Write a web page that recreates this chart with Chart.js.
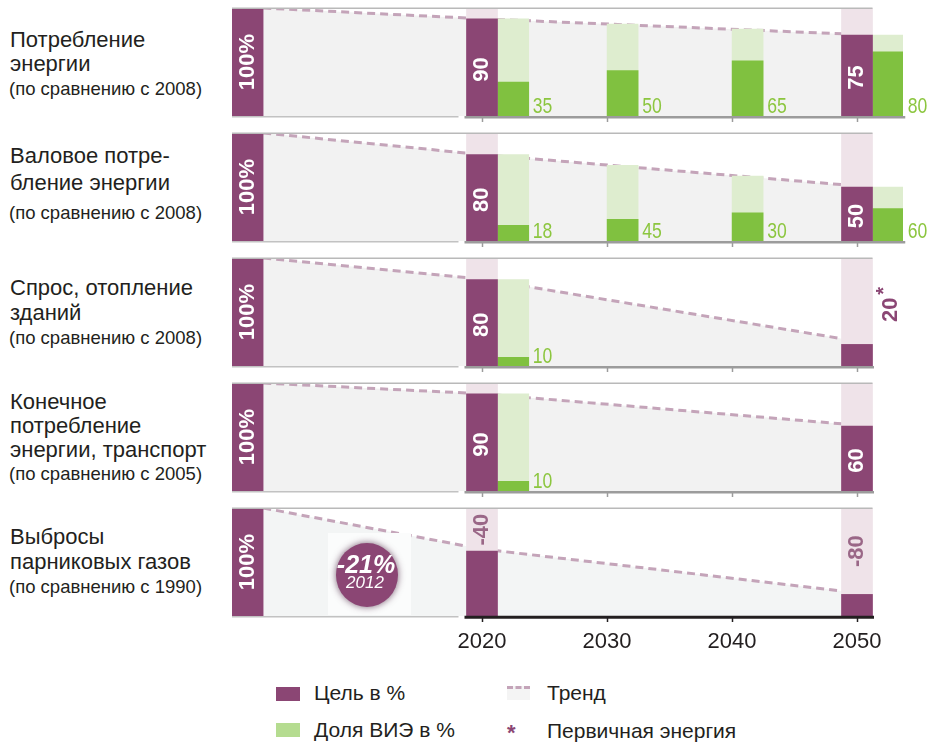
<!DOCTYPE html>
<html><head><meta charset="utf-8">
<script src="https://cdn.jsdelivr.net/npm/chart.js@4.4.1/dist/chart.umd.min.js"></script>
<style>
body{margin:0;background:#fff;width:942px;height:745px;overflow:hidden;position:relative;font-family:'Liberation Sans',Arial,sans-serif;color:#231f20}
canvas{position:absolute;left:0}
.ttl{position:absolute;left:10px;white-space:nowrap;font-size:22px;line-height:24px}
.sub{position:absolute;left:9px;white-space:nowrap;font-size:18.5px;line-height:24px}
.sw{position:absolute}
.legt{position:absolute;white-space:nowrap;font-size:21px;line-height:24px}
</style></head><body>
<script>
// ---------------- DATA ----------------
const years = [2020, 2030, 2040, 2050];
const columnYears = [2020, 2050];
const titles = [
  ['Потребление', 'энергии'],
  ['Валовое потре-', 'бление энергии'],
  ['Спрос, отопление', 'зданий'],
  ['Конечное', 'потребление', 'энергии, транспорт'],
  ['Выбросы', 'парниковых газов']
];
const subtitles = ['(по сравнению с 2008)', '(по сравнению с 2008)', '(по сравнению с 2008)', '(по сравнению с 2005)', '(по сравнению с 1990)'];
const baseValue = [100, 100, 100, 100, 100];
const baseLabel = ['100%', '100%', '100%', '100%', '100%'];
const target2020 = [90, 80, 80, 90, 60];
const target2050 = [75, 50, 20, 60, 20];
const targetLabel2020 = ['90', '80', '80', '90', '-40'];
const targetLabel2050 = ['75', '50', '20', '60', '-80'];
const trend2020 = [90, 80, 80.5, 90, 62];
const trend2050 = [75.5, 51, 23, 61, 21.5];
// renewable share bars per year (2020, 2030, 2040, 2050): total (light) and share part (dark)
const resTotal = [[90, 85, 80.5, 75], [80, 70, 60, 50], [80, null, null, null], [90, null, null, null], [null, null, null, null]];
const resPart  = [[31.5, 42, 51, 59.5], [14.5, 20, 26, 30], [8, null, null, null], [9, null, null, null], [null, null, null, null]];
const resLabels = [['35', '50', '65', '80'], ['18', '45', '30', '60'], ['10', '', '', ''], ['10', '', '', ''], ['', '', '', '']];
const badgeText = ['-21%', '2012'];
const legendItems = ['Цель в %', 'Доля ВИЭ в %', 'Тренд', 'Первичная энергия'];

// ---------------- LAYOUT / STYLE ----------------
const L = { xMin: 2000, xMax: 2053.68, baseX: 2001.25, barYears: 2.5, barPx: 31,
  panelTop: [8, 133, 258, 383, 508], panelH: 108,
  titleCenters: [[40, 64, 89], [156, 183, 213], [288, 313, 338], [402, 426, 450, 474], [537, 562, 587]],
  badgeX: 2010.8, badgeY: 38 };
const C = { purple: '#8b4674', pink: '#efe3e9', lightGreen: '#deedcf', darkGreen: '#80c140',
  fill: ['#f2f2f2', '#f2f2f2', '#f2f2f2', '#f2f2f2', '#f3f5f5'], trend: '#c4a4b9', resText: '#8cc63f',
  rule: '#b9b9b9', axis: '#9c9c9c', axisLast: '#231f20', mauveText: '#9a6787' };
const labelMode = [['in', 'in'], ['in', 'in'], ['in', 'side'], ['in', 'in'], ['above', 'above']];
Chart.defaults.font.family = "'Liberation Sans', Arial, sans-serif";

// ---------------- TITLES & LEGEND (HTML text) ----------------
titles.forEach((lines, i) => {
  const cs = L.titleCenters[i];
  lines.forEach((t, k) => {
    const d = document.createElement('div'); d.className = 'ttl'; d.textContent = t;
    d.style.top = (cs[k] - 12) + 'px'; document.body.appendChild(d);
  });
  const s = document.createElement('div'); s.className = 'sub'; s.textContent = subtitles[i];
  s.style.top = (cs[lines.length] - 12) + 'px'; document.body.appendChild(s);
});
function addDiv(cls, css, text) {
  const d = document.createElement('div'); d.className = cls; Object.assign(d.style, css);
  if (text) d.textContent = text; document.body.appendChild(d); return d;
}
addDiv('sw', {left: '276px', top: '687px', width: '24px', height: '14px', background: C.purple});
addDiv('sw', {left: '276px', top: '723px', width: '24px', height: '14px', background: '#b5dc90'});
addDiv('sw', {left: '507px', top: '686px', width: '23px', height: '11px', background: '#f4f4f4', borderTop: '3px dashed ' + C.trend});
addDiv('sw', {left: '507px', top: '722px', fontSize: '22px', fontWeight: 'bold', color: C.purple, lineHeight: '22px'}, '*');
addDiv('legt', {left: '314px', top: '681px'}, legendItems[0]);
addDiv('legt', {left: '314px', top: '718px'}, legendItems[1]);
addDiv('legt', {left: '547px', top: '681px'}, legendItems[2]);
addDiv('legt', {left: '547px', top: '719px'}, legendItems[3]);

// ---------------- HELPERS ----------------
const resX = (k) => years[k] + (columnYears.includes(years[k]) ? L.barYears : L.barYears / 2);
function vtext(ctx, text, x, y, font, color) {
  ctx.save(); ctx.translate(x, y); ctx.rotate(-Math.PI / 2);
  ctx.font = font; ctx.fillStyle = color; ctx.textAlign = 'center'; ctx.textBaseline = 'middle';
  ctx.fillText(text, 0, 0); ctx.restore();
}

const decor = {
  id: 'decor',
  afterDatasetsDraw(chart, args, o) {
    const i = o.panel;
    const {ctx, chartArea: ca} = chart;
    const px = v => chart.scales.x.getPixelForValue(v);
    const py = v => chart.scales.y.getPixelForValue(v);
    const half = L.barPx / 2;
    ctx.save();
    // top rule
    ctx.strokeStyle = C.rule; ctx.lineWidth = 1.5;
    ctx.beginPath(); ctx.moveTo(ca.left, ca.top + 0.3); ctx.lineTo(px(2050) + half, ca.top + 0.3); ctx.stroke();
    // bottom light rule (before 2020)
    ctx.strokeStyle = '#c2c2c2';
    ctx.beginPath(); ctx.moveTo(ca.left, ca.bottom + 0.7); ctx.lineTo(px(2020) - half - 8, ca.bottom + 0.7); ctx.stroke();
    // axis
    const right = resTotal[i][3] != null ? px(resX(3)) + half : px(2050) + half;
    ctx.strokeStyle = i === 4 ? C.axisLast : C.axis; ctx.lineWidth = i === 4 ? 3 : 2.5;
    ctx.beginPath(); ctx.moveTo(px(2020) - half - 2, ca.bottom + 1.3); ctx.lineTo(right + 1.5, ca.bottom + 1.3); ctx.stroke();
    ctx.lineWidth = 1.5;
    years.forEach(yr => {
      const X = Math.round(px(yr)) + 0.5;
      ctx.beginPath(); ctx.moveTo(X, ca.bottom + 1); ctx.lineTo(X, ca.bottom + 6); ctx.stroke();
    });
    // labels in bars
    const bold = 'bold 22px "Liberation Sans", Arial, sans-serif';
    vtext(ctx, baseLabel[i], px(L.baseX), (py(baseValue[i]) + ca.bottom) / 2, bold, '#fff');
    [[2020, target2020[i], targetLabel2020[i], labelMode[i][0]], [2050, target2050[i], targetLabel2050[i], labelMode[i][1]]].forEach(([yr, v, t, m]) => {
      if (m === 'in') vtext(ctx, t, px(yr), (py(v) + ca.bottom) / 2 + 2, bold, '#fff');
      else if (m === 'above') vtext(ctx, t, px(yr), (py(v) + ca.top) / 2, bold, C.mauveText);
      else if (m === 'side') {
        const cx = px(yr) + half + 18, cy = py(52);
        vtext(ctx, t, cx, cy, bold, C.purple);
        vtext(ctx, '*', cx - 6, cy - 19, 'bold 20px "Liberation Sans", Arial, sans-serif', C.purple);
      }
    });
    // renewable labels (condensed)
    ctx.font = '22px "Liberation Sans", Arial, sans-serif';
    ctx.fillStyle = C.resText; ctx.textAlign = 'left'; ctx.textBaseline = 'alphabetic';
    resLabels[i].forEach((t, k) => {
      if (!t) return;
      ctx.save(); ctx.translate(px(resX(k)) + half + 4, ca.bottom - 3); ctx.scale(0.8, 1);
      ctx.fillText(t, 0, 0); ctx.restore();
    });
    // badge
    if (i === 4) {
      const bx = px(L.badgeX), by = py(L.badgeY);
      ctx.fillStyle = '#fbfcfc';
      ctx.fillRect(bx - 39, by - 42, 83, 82);
      ctx.save();
      ctx.shadowColor = 'rgba(70,30,60,0.7)'; ctx.shadowBlur = 7;
      ctx.fillStyle = C.purple;
      ctx.beginPath(); ctx.ellipse(bx, by, 31, 32, 0, 0, Math.PI * 2); ctx.fill();
      ctx.restore();
      ctx.fillStyle = '#fff'; ctx.textAlign = 'center'; ctx.textBaseline = 'middle';
      ctx.font = 'italic bold 25px "Liberation Sans", Arial, sans-serif';
      ctx.fillText(badgeText[0], bx - 1, by - 9);
      ctx.font = 'italic 17px "Liberation Sans", Arial, sans-serif';
      ctx.fillText(badgeText[1], bx - 2, by + 8);
    }
    ctx.restore();
  }
};

// ---------------- CHARTS ----------------
titles.forEach((_, i) => {
  const last = i === 4;
  const cv = document.createElement('canvas');
  const H = last ? 160 : 125;
  cv.width = 942; cv.height = H; cv.style.top = (L.panelTop[i] - 8) + 'px';
  document.body.appendChild(cv);
  const trendPts = [{x: L.baseX + L.barYears / 2, y: baseValue[i]}, {x: 2020, y: trend2020[i]}, {x: 2050, y: trend2050[i]}];
  const light = [], dark = [];
  years.forEach((yr, k) => {
    if (resTotal[i][k] != null) light.push({x: resX(k), y: resTotal[i][k]});
    if (resPart[i][k] != null) dark.push({x: resX(k), y: resPart[i][k]});
  });
  const bar = {type: 'bar', grouped: false, barThickness: L.barPx, borderWidth: 0};
  const xScale = {type: 'linear', min: L.xMin, max: L.xMax, offset: false, display: last,
    grid: {display: false, drawTicks: false}, border: {display: false},
    ticks: {font: {size: 22}, color: '#231f20', padding: 13, maxRotation: 0, autoSkip: false,
      callback: v => String(v)},
    afterBuildTicks: s => { s.ticks = years.map(v => ({value: v})); }};
  if (last) xScale.afterFit = s => { s.height = 44; };
  new Chart(cv, {
    type: 'bar',
    data: {datasets: [
      {type: 'line', order: 10, data: trendPts, borderColor: C.trend, borderWidth: 3, borderDash: [8, 5],
        pointRadius: 0, fill: 'origin', backgroundColor: C.fill[i], tension: 0},
      Object.assign({order: 8, data: columnYears.map(y => ({x: y, y: 100})), backgroundColor: C.pink}, bar),
      Object.assign({order: 6, data: light, backgroundColor: C.lightGreen}, bar),
      Object.assign({order: 4, data: dark, backgroundColor: C.darkGreen}, bar),
      Object.assign({order: 2, data: [{x: L.baseX, y: baseValue[i]}, {x: 2020, y: target2020[i]}, {x: 2050, y: target2050[i]}], backgroundColor: C.purple}, bar)
    ]},
    options: {
      responsive: false, animation: false, devicePixelRatio: 1,
      layout: {padding: {left: 232, right: 39, top: 8, bottom: last ? 0 : 9}},
      scales: {x: xScale, y: {min: 0, max: 100, display: false}},
      plugins: {legend: {display: false}, tooltip: {enabled: false}, decor: {panel: i}}
    },
    plugins: [decor]
  });
});
</script>
</body></html>
